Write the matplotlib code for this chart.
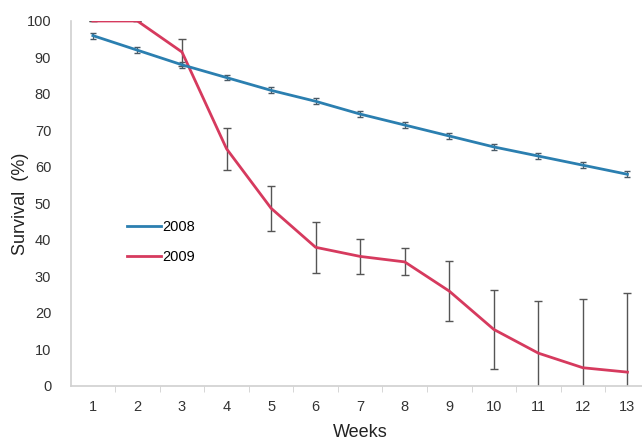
import matplotlib
matplotlib.use('Agg')
import matplotlib.pyplot as plt
from matplotlib.lines import Line2D

plt.rcParams['font.family'] = ['Liberation Sans', 'DejaVu Sans']

weeks = [1, 2, 3, 4, 5, 6, 7, 8, 9, 10, 11, 12, 13]
surv_2008 = [96, 92, 88, 84.5, 81, 78, 74.5, 71.5, 68.5, 65.5, 63, 60.5, 58]
err_2008 = [0.8, 0.8, 0.8, 0.8, 0.8, 0.8, 0.8, 0.8, 0.8, 0.8, 0.8, 0.8, 0.8]
surv_2009 = [100, 100, 91.5, 65, 48.7, 38, 35.5, 34, 26, 15.5, 9, 5, 3.8]
err_2009 = [0, 0, 3.7, 5.7, 6.2, 7, 4.7, 3.7, 8.3, 10.8, 14.3, 18.8, 21.8]

c08 = '#2b7fb0'
c09 = '#d63a5e'

fig = plt.figure(figsize=(6.42, 4.42), dpi=100)
ax = fig.add_axes([0.110, 0.1267, 0.902, 0.8258])

# 2008 series
ax.errorbar(weeks, surv_2008, yerr=err_2008, color=c08, lw=2,
            ecolor='#4a5a66', elinewidth=0.9, capsize=2.5, zorder=3)
# 2009 series
ax.errorbar(weeks, surv_2009, yerr=err_2009, color=c09, lw=2,
            ecolor='#555555', elinewidth=1, capsize=3, zorder=2)

ax.set_xlim(0.5, 13.5)
ax.set_ylim(0, 100)
ax.set_xticks(weeks)
ax.set_yticks(range(0, 101, 10))
ax.set_xticks([w + 0.5 for w in weeks[:-1]], minor=True)
ax.tick_params(axis='x', which='major', length=0, pad=10, labelsize=10.5, colors='#333333')
ax.tick_params(axis='x', which='minor', length=4, color='#d0d0d0')
ax.tick_params(axis='y', length=0, pad=14, labelsize=10.5, colors='#333333')

for s in ['top', 'right']:
    ax.spines[s].set_visible(False)
for s in ['left', 'bottom']:
    ax.spines[s].set_color('#d0d0d0')
    ax.spines[s].set_linewidth(1.2)

ax.set_xlabel('Weeks', fontsize=13, labelpad=7, color='#222222')
ax.set_ylabel('Survival  (%)', fontsize=13, labelpad=-2, color='#222222')

handles = [Line2D([], [], color=c08, lw=2), Line2D([], [], color=c09, lw=2)]
ax.legend(handles, ['2008', '2009'], loc='upper left', bbox_to_anchor=(0.075, 0.49),
          frameon=False, fontsize=10.5, handlelength=2.3, handletextpad=0.1,
          labelspacing=1.1)

fig.savefig('out.png', dpi=100)
